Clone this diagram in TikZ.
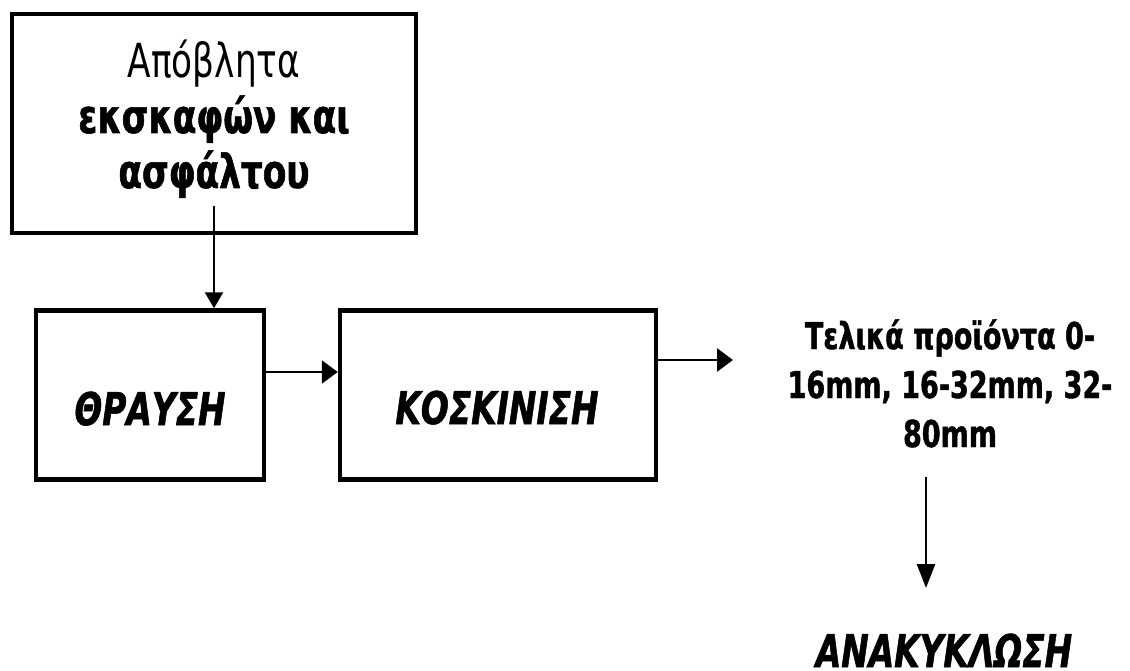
\documentclass[tikz,border=0pt]{standalone}
\usepackage{fontspec}
\setmainfont{DejaVu Sans}[FakeStretch=0.73,
  BoldFeatures={FakeBold=1.2}, BoldItalicFeatures={FakeBold=1.2}]
\usetikzlibrary{arrows.meta}
\begin{document}
\begin{tikzpicture}[x=1pt,y=-1pt,
  stagebox/.style={draw, line width=4.5pt, inner sep=0pt},
  stagelabel/.style={anchor=base, inner sep=0pt, font=\fontsize{45}{54}\selectfont\bfseries\itshape},
  flow/.style={line width=2.7pt, -{Triangle[length=16pt,width=23pt]}},
  downflow/.style={line width=2.7pt, -{Triangle[length=16pt,width=18pt]}},
  longflow/.style={line width=2.7pt, -{Triangle[length=24pt,width=18pt]}}]
\useasboundingbox (0,0) rectangle (1130,671);

% source box with its text (base anchor sits on the last line)
\node[stagebox, minimum width=404pt, minimum height=219pt] (src) at (214,123.5) {};
\node[anchor=base, align=center, inner sep=3pt, font=\fontsize{47}{55}\selectfont] (srctxt) at (214,188)
  {Απόβλητα\\\textbf{εκσκαφών και}\\\textbf{ασφάλτου}};

% processing stages
\node[stagebox, minimum width=228pt, minimum height=169pt] (thr) at (150,395) {};
\node[stagelabel] (thrtxt) at (150,425) {ΘΡΑΥΣΗ};
\node[stagebox, minimum width=316pt, minimum height=169pt] (kos) at (498,395) {};
\node[stagelabel] (kostxt) at (497,424) {ΚΟΣΚΙΝΙΣΗ};

% products and recycling
\node[anchor=base, align=center, inner sep=0pt, font=\fontsize{37}{49}\selectfont\bfseries] (prod) at (950,447)
  {Τελικά προϊόντα 0-\\16mm, 16-32mm, 32-\\80mm};
\node[stagelabel] (recyc) at (944,667) {ΑΝΑΚΥΚΛΩΣΗ};

\coordinate (outtip) at (733,360);
\coordinate (dtop) at (926,477);
\coordinate (dbot) at (926,588);

% connectors
\draw[downflow] ([yshift=-5pt]srctxt.south) -- (srctxt.south |- thr.north);
\draw[flow] ([yshift=23pt]thr.east) -- ([yshift=23pt]kos.west);
\draw[flow] ([yshift=35pt]kos.east) -- (outtip);
\draw[longflow] (dtop) -- (dbot);
\end{tikzpicture}
\end{document}
